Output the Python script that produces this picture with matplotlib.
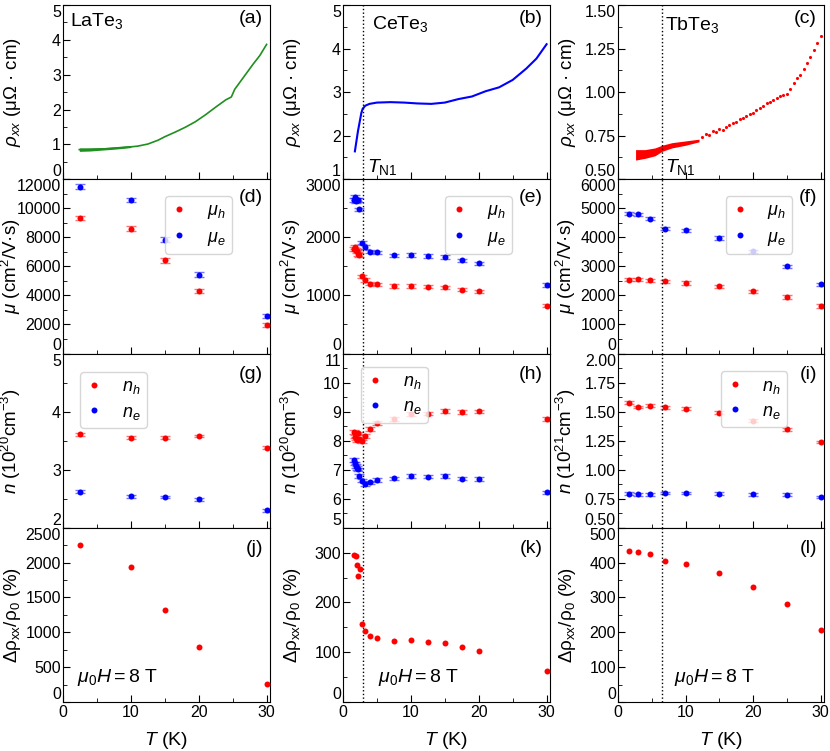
import numpy as np
import matplotlib.pyplot as plt
from matplotlib.ticker import MultipleLocator, FormatStrFormatter

plt.rcParams['font.family'] = ['Liberation Sans', 'DejaVu Sans']
plt.rcParams['mathtext.fontset'] = 'custom'
plt.rcParams['mathtext.rm'] = 'Liberation Sans'
plt.rcParams['mathtext.it'] = 'Liberation Sans:italic'
plt.rcParams['mathtext.bf'] = 'Liberation Sans:bold'

# ---- row 1: resistivity ----
T_rho_la = [2.4, 3.5, 5, 7, 9, 11, 12.5, 14, 15, 16.5, 18, 19.5, 21, 22.5, 24, 24.8, 25.3, 26.5, 28, 29, 30]
rho_la = [0.85, 0.85, 0.86, 0.88, 0.91, 0.95, 1.01, 1.12, 1.22, 1.35, 1.49, 1.65, 1.85, 2.07, 2.28, 2.36, 2.58, 2.9, 3.3, 3.55, 3.87]
T_band_la = [2.4, 4, 6, 8, 10]
band_la_lo = [0.80, 0.81, 0.84, 0.87, 0.91]
band_la_hi = [0.90, 0.90, 0.91, 0.94, 0.97]

T_rho_ce = [1.75, 2.2, 2.7, 2.9, 3.3, 3.9, 5, 7, 9, 11, 13, 15, 17, 19, 21, 23, 25, 27, 28.5, 30]
rho_ce = [1.64, 2.1, 2.52, 2.62, 2.69, 2.73, 2.76, 2.77, 2.76, 2.74, 2.73, 2.76, 2.84, 2.90, 3.02, 3.11, 3.28, 3.54, 3.77, 4.10]

T_band_tb = [2.6, 4, 5.5, 6.5, 8, 10, 12]
band_tb_lo = [0.61, 0.62, 0.635, 0.66, 0.68, 0.695, 0.715]
band_tb_hi = [0.67, 0.67, 0.68, 0.695, 0.71, 0.72, 0.73]
T_rho_tb = [12.5, 13, 13.5, 14, 14.5, 15, 15.5, 16, 16.5, 17, 17.5, 18, 18.5, 19, 19.5, 20, 20.5, 21,
            21.5, 22, 22.5, 23, 23.5, 24, 24.5, 25, 25.5, 26, 26.5, 27, 27.5, 28, 28.5, 29, 29.5, 30]
rho_tb = [0.745, 0.76, 0.755, 0.775, 0.77, 0.79, 0.785, 0.80, 0.81, 0.825, 0.83, 0.845, 0.85, 0.865, 0.875, 0.88,
          0.90, 0.91, 0.92, 0.935, 0.945, 0.955, 0.965, 0.975, 0.985, 0.99, 1.02, 1.05, 1.08, 1.10, 1.135, 1.165,
          1.20, 1.24, 1.28, 1.32]

# ---- LaTe3 ----
T_la = [2.5, 10, 15, 20, 30]
mu_h_la = [9330, 8600, 6410, 4320, 1950]
mu_e_la = [11500, 10550, 7840, 5430, 2600]
n_h_la = [3.61, 3.55, 3.55, 3.58, 3.38]
n_e_la = [2.62, 2.54, 2.53, 2.49, 2.30]
mr_la = [2257, 1942, 1325, 796, 252]

# ---- CeTe3 ----
T_ce = [1.55, 1.7, 1.85, 2.0, 2.2, 2.4, 2.8, 3.2, 4.0, 5.0, 7.5, 10, 12.5, 15, 17.5, 20, 30]
mu_h_ce = [1800, 1830, 1790, 1760, 1710, 1700, 1330, 1265, 1205, 1190, 1160, 1165, 1150, 1140, 1100, 1070, 825]
mu_e_ce = [2640, 2700, 2620, 2650, 2640, 2480, 1910, 1830, 1755, 1740, 1690, 1695, 1675, 1660, 1605, 1550, 1180]
n_h_ce = [8.29, 8.14, 8.08, 8.02, 8.25, 8.05, 7.97, 8.16, 8.40, 8.60, 8.75, 8.92, 8.93, 9.02, 8.99, 9.01, 8.75]
n_e_ce = [7.33, 7.22, 7.13, 7.05, 7.01, 6.78, 6.62, 6.51, 6.56, 6.64, 6.70, 6.79, 6.76, 6.78, 6.69, 6.68, 6.22]
T_mr_ce = [1.65, 1.85, 2.05, 2.25, 2.5, 2.8, 3.3, 4, 5, 7.5, 10, 12.5, 15, 17.5, 20, 30]
mr_ce = [296, 294, 276, 253, 267, 157, 142, 132, 128, 122, 124, 120, 119, 111, 103, 63]

# ---- TbTe3 ----
T_tb = [1.6, 2.9, 4.8, 6.9, 10, 15, 20, 25, 30]
mu_h_tb = [2540, 2550, 2520, 2480, 2425, 2310, 2140, 1940, 1630]
mu_e_tb = [4815, 4795, 4645, 4300, 4240, 3975, 3515, 3000, 2380]
n_h_tb = [1.575, 1.540, 1.549, 1.537, 1.526, 1.489, 1.420, 1.348, 1.238]
n_e_tb = [0.793, 0.787, 0.787, 0.799, 0.799, 0.793, 0.787, 0.784, 0.764]
mr_tb = [432, 429, 425, 405, 396, 369, 331, 280, 208]

# error bars (estimated)
err_mu_la = [150, 150, 150, 150, 150]
err_n_la = [0.025, 0.025, 0.025, 0.025, 0.025]
err_mu_ce = [30] * 17
err_n_ce = [0.06] * 17
err_mu_tb = [60] * 9
err_n_tb = [0.012] * 9

TN_ce = 2.9
TN_tb = 6.5

RED = '#ff0000'
BLUE = '#0000ff'
GREEN = '#1f8f1f'
LABEL_FS = 13.5

fig = plt.figure(figsize=(8.3, 7.51), dpi=100)
lefts = [63, 343, 618]
widths = [207, 207, 206]
row_h = 174.25
axs = []
for r in range(4):
    row = []
    for c in range(3):
        top = 5 + r * row_h
        row.append(fig.add_axes([lefts[c] / 830, 1 - (top + row_h) / 751, widths[c] / 830, row_h / 751]))
    axs.append(row)


def style(ax, ylim, major, minor, fmt, bottom):
    ax.set_xlim(0, 30.5)
    ax.set_ylim(*ylim)
    ax.xaxis.set_major_locator(MultipleLocator(10))
    ax.xaxis.set_minor_locator(MultipleLocator(5))
    ax.set_yticks(np.arange(ylim[0], ylim[1] + major * 0.01, major))
    ax.yaxis.set_minor_locator(MultipleLocator(minor))
    ax.yaxis.set_major_formatter(FormatStrFormatter(fmt))
    ax.tick_params(which='both', direction='in', labelsize=11.5, pad=1.5)
    ax.tick_params(which='major', length=5)
    ax.tick_params(which='minor', length=3)
    ax.tick_params(axis='x', labelbottom=bottom, pad=2.5)
    ax.set_ylim(*ylim)
    for tk, lab in zip(ax.get_yticks(), ax.get_yticklabels()):
        if np.isclose(tk, ylim[0]):
            lab.set_va('bottom')
        elif np.isclose(tk, ylim[1]):
            lab.set_va('top')
    if bottom:
        ax.set_xlabel('$T$ (K)', fontsize=14, labelpad=7)
    ax.yaxis.set_label_coords(-0.195, 0.5)


def pts(ax, T, y, err, color, label):
    if err is not None:
        ax.errorbar(T, y, yerr=err, fmt='none', ecolor=color, alpha=0.55, capsize=3.5, elinewidth=1, capthick=1)
    ax.plot(T, y, 'o', color=color, ms=4.3, mec='none', label=label, zorder=3)


def leg(ax, anchor, loc):
    ax.legend(loc=loc, bbox_to_anchor=anchor, fontsize=13, handlelength=0.85, handletextpad=1.1,
              borderpad=0.35, labelspacing=0.4)


def tag(ax, s, y=0.955):
    ax.text(0.965, y, s, transform=ax.transAxes, ha='right', va='top', fontsize=14)


# row 1
ax = axs[0][0]
ax.fill_between(T_band_la, band_la_lo, band_la_hi, color=GREEN, lw=0)
ax.plot(T_rho_la, rho_la, '-', color=GREEN, lw=1.2)
style(ax, (0, 5), 1, 0.5, '%d', False)
ax.set_ylabel(r'$\rho_{xx}$ (μΩ · cm)', fontsize=LABEL_FS)
ax.text(0.035, 0.965, 'LaTe$_3$', transform=ax.transAxes, ha='left', va='top', fontsize=14)
tag(ax, '(a)', 0.97)

ax = axs[0][1]
ax.plot(T_rho_ce, rho_ce, '-', color=BLUE, lw=1.5)
style(ax, (1, 5), 1, 0.5, '%d', False)
ax.set_ylabel(r'$\rho_{xx}$ (μΩ · cm)', fontsize=LABEL_FS)
ax.text(0.14, 0.95, 'CeTe$_3$', transform=ax.transAxes, ha='left', va='top', fontsize=14)
ax.text(0.115, 0.015, r'$T_{\mathrm{N1}}$', transform=ax.transAxes, ha='left', va='bottom', fontsize=14)
tag(ax, '(b)', 0.97)

ax = axs[0][2]
ax.fill_between(T_band_tb, band_tb_lo, band_tb_hi, color=RED, lw=0)
ax.plot(T_rho_tb, rho_tb, '.', color=RED, ms=2.5)
style(ax, (0.5, 1.5), 0.25, 0.125, '%.2f', False)
ax.set_ylabel(r'$\rho_{xx}$ (μΩ · cm)', fontsize=LABEL_FS)
ax.text(0.23, 0.94, 'TbTe$_3$', transform=ax.transAxes, ha='left', va='top', fontsize=14)
ax.text(0.23, 0.015, r'$T_{\mathrm{N1}}$', transform=ax.transAxes, ha='left', va='bottom', fontsize=14)
tag(ax, '(c)', 0.97)

# row 2: mobility
ax = axs[1][0]
pts(ax, T_la, mu_h_la, err_mu_la, RED, r'$\mu_h$')
pts(ax, T_la, mu_e_la, err_mu_la, BLUE, r'$\mu_e$')
style(ax, (0, 12000), 2000, 1000, '%d', False)
ax.set_ylabel(r'$\mu$ (cm$^2$/V·s)', fontsize=LABEL_FS)
leg(ax, (0.86, 0.955), 'upper right')
tag(ax, '(d)', 0.945)

ax = axs[1][1]
pts(ax, T_ce, mu_h_ce, err_mu_ce, RED, r'$\mu_h$')
pts(ax, T_ce, mu_e_ce, err_mu_ce, BLUE, r'$\mu_e$')
style(ax, (0, 3000), 1000, 500, '%d', False)
ax.set_ylabel(r'$\mu$ (cm$^2$/V·s)', fontsize=LABEL_FS)
leg(ax, (0.86, 0.955), 'upper right')
tag(ax, '(e)', 0.945)

ax = axs[1][2]
pts(ax, T_tb, mu_h_tb, err_mu_tb, RED, r'$\mu_h$')
pts(ax, T_tb, mu_e_tb, err_mu_tb, BLUE, r'$\mu_e$')
style(ax, (0, 6000), 1000, 500, '%d', False)
ax.set_ylabel(r'$\mu$ (cm$^2$/V·s)', fontsize=LABEL_FS)
leg(ax, (0.89, 0.955), 'upper right')
tag(ax, '(f)', 0.945)

# row 3: carrier density
ax = axs[2][0]
pts(ax, T_la, n_h_la, err_n_la, RED, r'$n_h$')
pts(ax, T_la, n_e_la, err_n_la, BLUE, r'$n_e$')
style(ax, (2, 5), 1, 0.5, '%d', False)
ax.set_ylabel(r'$n$ (10$^{20}$cm$^{-3}$)', fontsize=LABEL_FS)
leg(ax, (0.04, 0.945), 'upper left')
tag(ax, '(g)', 0.93)

ax = axs[2][1]
pts(ax, T_ce, n_h_ce, err_n_ce, RED, r'$n_h$')
pts(ax, T_ce, n_e_ce, err_n_ce, BLUE, r'$n_e$')
style(ax, (5, 11), 1, 0.5, '%d', False)
ax.set_ylabel(r'$n$ (10$^{20}$cm$^{-3}$)', fontsize=LABEL_FS)
leg(ax, (0.045, 0.975), 'upper left')
tag(ax, '(h)', 0.93)

ax = axs[2][2]
pts(ax, T_tb, n_h_tb, err_n_tb, RED, r'$n_h$')
pts(ax, T_tb, n_e_tb, err_n_tb, BLUE, r'$n_e$')
style(ax, (0.5, 2.0), 0.25, 0.125, '%.2f', False)
ax.set_ylabel(r'$n$ (10$^{21}$cm$^{-3}$)', fontsize=LABEL_FS)
leg(ax, (0.865, 0.95), 'upper right')
tag(ax, '(i)', 0.93)

# row 4: magnetoresistance
mr_label = 'Δρ$_{\\mathrm{xx}}$/ρ$_0$ (%)'
ax = axs[3][0]
pts(ax, T_la, mr_la, None, RED, None)
style(ax, (0, 2500), 500, 250, '%d', True)
ax.set_ylabel(mr_label, fontsize=LABEL_FS)
ax.text(0.07, 0.14, r'$\mu_0H = 8$ T', transform=ax.transAxes, ha='left', va='center', fontsize=14)
tag(ax, '(j)', 0.93)

ax = axs[3][1]
pts(ax, T_mr_ce, mr_ce, None, RED, None)
style(ax, (0, 350), 100, 50, '%d', True)
ax.set_ylabel(mr_label, fontsize=LABEL_FS)
ax.text(0.17, 0.14, r'$\mu_0H = 8$ T', transform=ax.transAxes, ha='left', va='center', fontsize=14)
tag(ax, '(k)', 0.93)

ax = axs[3][2]
pts(ax, T_tb, mr_tb, None, RED, None)
style(ax, (0, 500), 100, 50, '%d', True)
ax.set_ylabel(mr_label, fontsize=LABEL_FS)
ax.text(0.27, 0.14, r'$\mu_0H = 8$ T', transform=ax.transAxes, ha='left', va='center', fontsize=14)
tag(ax, '(l)', 0.93)

for r in range(4):
    axs[r][1].axvline(TN_ce, color='k', ls=':', lw=1)
    axs[r][2].axvline(TN_tb, color='k', ls=':', lw=1)

fig.savefig('out.png', dpi=100)
